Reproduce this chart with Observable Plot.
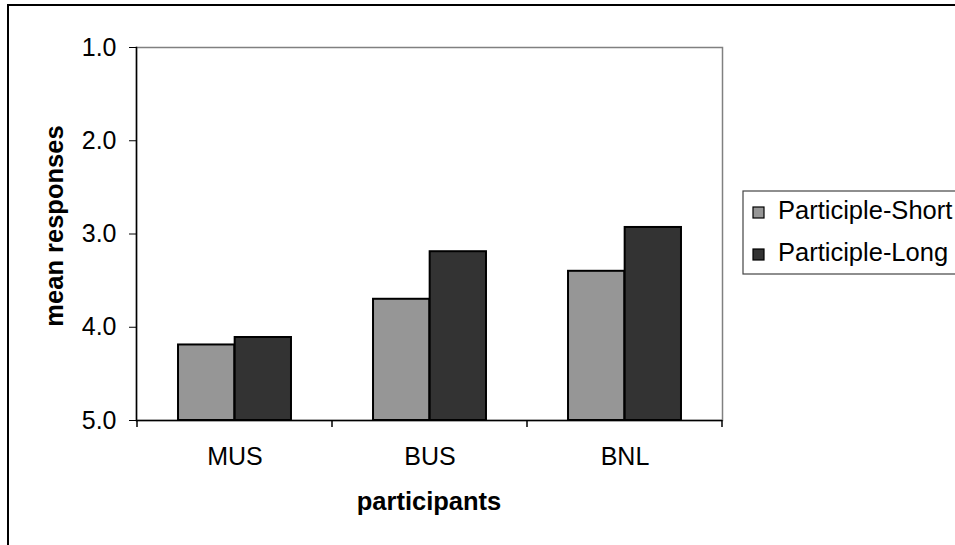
<!DOCTYPE html>
<html><head><meta charset="utf-8">
<script src="https://cdn.jsdelivr.net/npm/d3@7"></script>
<script src="https://cdn.jsdelivr.net/npm/@observablehq/plot@0.6"></script>
<style>body{margin:0;background:#fff} #chart{position:relative;width:955px;height:545px}</style>
</head><body><div id="chart"></div>
<script>
const categories = ["MUS", "BUS", "BNL"];
const series = ["Participle-Short", "Participle-Long"];
const shortValues = [4.19, 3.70, 3.40];
const longValues = [4.11, 3.19, 2.93];
const yTicks = [1, 2, 3, 4, 5];
const colors = ["#969696", "#333333"];
const xTitle = "participants";
const yTitle = "mean responses";

const data = categories.flatMap((c, i) => [
  {cat: c, series: series[0], value: shortValues[i]},
  {cat: c, series: series[1], value: longValues[i]}
]);

const W = 955, H = 545, ML = 136, MR = 233, MT = 47, MB = 125;
const FONT = "'Liberation Sans', Arial, Helvetica, sans-serif";
const bw = (W - ML - MR) / categories.length;
const barFrac = 0.29;
const outer = bw * (1 - 2 * barFrac) / 2;
const inner = bw - outer - bw * barFrac;

const chart = Plot.plot({
  width: W, height: H,
  marginLeft: ML, marginRight: MR, marginTop: MT, marginBottom: MB,
  style: {fontFamily: FONT, fontSize: "25px", background: "white", color: "black", overflow: "visible"},
  x: {domain: categories, padding: 0, label: null},
  y: {domain: [5, 1], label: null},
  color: {domain: series, range: colors},
  marks: [
    Plot.frame({stroke: "#808080", strokeWidth: 1.5}),
    Plot.barY(data.filter(d => d.series === series[0]), {x: "cat", y1: 5, y2: "value", fill: "series", stroke: "black", strokeWidth: 2, insetLeft: outer, insetRight: inner}),
    Plot.barY(data.filter(d => d.series === series[1]), {x: "cat", y1: 5, y2: "value", fill: "series", stroke: "black", strokeWidth: 2, insetLeft: inner, insetRight: outer}),
    Plot.ruleY([5], {stroke: "black", strokeWidth: 1.5}),
    Plot.frame({anchor: "left", stroke: "black", strokeWidth: 1.5}),
    Plot.axisY({ticks: yTicks, tickFormat: d3.format(".1f"), tickSize: 7, tickPadding: 13, label: null, stroke: "black"}),
    Plot.axisX({tickSize: 0, tickPadding: 27, label: null})
  ]
});
document.getElementById("chart").appendChild(chart);

const svg = d3.select(chart);
const xs = chart.scale("x"), ys = chart.scale("y");
const y0 = ys.apply(5);
const bounds = categories.map(c => xs.apply(c)).concat([xs.apply(categories[categories.length - 1]) + xs.bandwidth]);
svg.append("g").selectAll("line").data(bounds).join("line")
  .attr("x1", d => d).attr("x2", d => d).attr("y1", y0).attr("y2", y0 + 7)
  .attr("stroke", "black").attr("stroke-width", 1.5);

// outer chart border (top and left)
svg.append("path").attr("d", `M8,${H} V5 H${W}`).attr("fill", "none").attr("stroke", "black").attr("stroke-width", 2);

// axis titles
const xMid = (xs.range[0] + xs.range[1]) / 2;
svg.append("text").attr("x", xMid).attr("y", 510).attr("text-anchor", "middle")
  .attr("font-family", FONT).attr("font-size", 25.5).attr("font-weight", "bold").text(xTitle);
svg.append("text").attr("transform", `translate(63,226) rotate(-90)`).attr("text-anchor", "middle")
  .attr("font-family", FONT).attr("font-size", 25.5).attr("font-weight", "bold").text(yTitle);

// legend
const lg = svg.append("g").attr("text-anchor", "start");
lg.append("rect").attr("x", 743).attr("y", 191).attr("width", 230).attr("height", 83)
  .attr("fill", "white").attr("stroke", "#444").attr("stroke-width", 1.2);
series.forEach((s, i) => {
  const by = 219 + i * 42;
  lg.append("rect").attr("x", 753).attr("y", by - 12).attr("width", 11).attr("height", 11)
    .attr("fill", colors[i]).attr("stroke", "black").attr("stroke-width", 1.2);
  lg.append("text").attr("x", 778).attr("y", by).attr("text-anchor", "start")
    .attr("font-family", FONT).attr("font-size", 25.5).text(s);
});
</script>
</body></html>
